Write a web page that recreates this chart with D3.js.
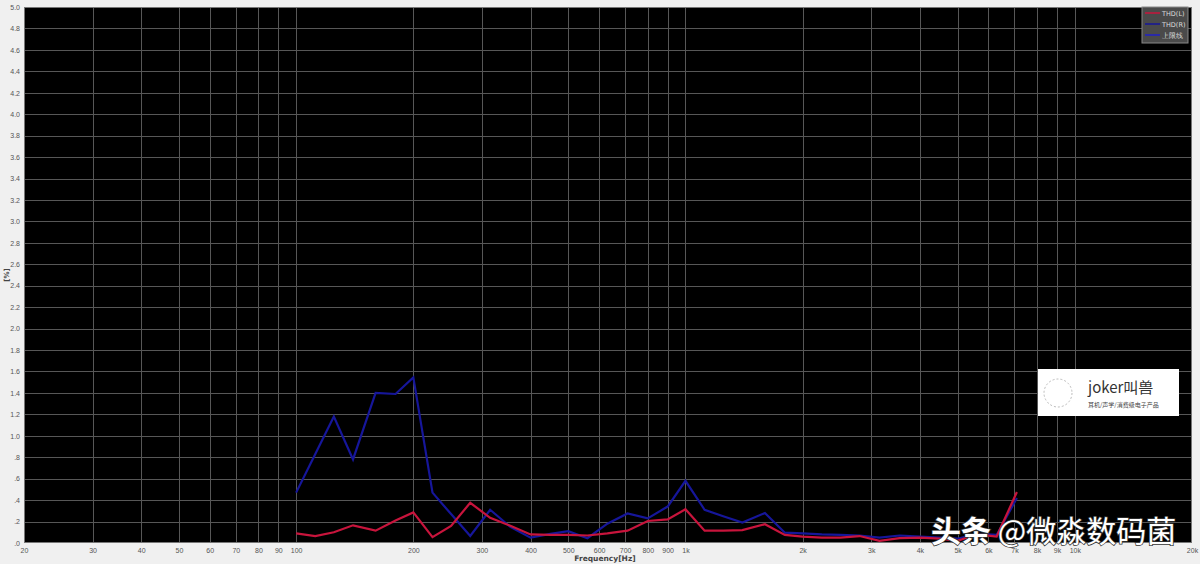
<!DOCTYPE html>
<html><head><meta charset="utf-8">
<script src="https://cdn.jsdelivr.net/npm/d3@7"></script>
<style>
html,body{margin:0;padding:0;background:#f0f0f0;}
svg{display:block;font-family:"DejaVu Sans",sans-serif;}
</style></head>
<body>
<script>
const freqs = [100,112,125,140,160,180,200,224,250,280,315,355,400,450,500,560,630,710,800,900,1000,1120,1250,1400,1600,1800,2000,2240,2500,2800,3150,3550,4000,4500,5000,5600,6300,7100];
const thdL = [0.09,0.065,0.10,0.165,0.115,0.21,0.285,0.055,0.16,0.375,0.235,0.16,0.08,0.075,0.075,0.07,0.09,0.115,0.205,0.22,0.315,0.115,0.115,0.12,0.175,0.075,0.06,0.05,0.05,0.065,0.02,0.045,0.05,0.04,0.02,0.08,0.06,0.475];
const thdR = [0.47,0.83,1.18,0.78,1.40,1.39,1.545,0.47,0.27,0.065,0.31,0.15,0.05,0.085,0.11,0.045,0.18,0.275,0.23,0.34,0.58,0.31,0.25,0.19,0.28,0.096,0.09,0.08,0.075,0.07,0.05,0.07,0.06,0.05,0.04,0.085,0.075,0.42];
const xTicks = [20,30,40,50,60,70,80,90,100,200,300,400,500,600,700,800,900,1000,2000,3000,4000,5000,6000,7000,8000,9000,10000,20000];
const xTickLabels = ["20","30","40","50","60","70","80","90","100","200","300","400","500","600","700","800","900","1k","2k","3k","4k","5k","6k","7k","8k","9k","10k","20k"];
const yTicks = d3.range(0,26).map(i=>i*0.2);
const yTickLabels = yTicks.map(v=>{const s=v.toFixed(1);return v<1?s.slice(1):s;});
const legendLabels = ["THD(L)","THD(R)","上限线"];
const legendColors = ["#c8143c","#16169a","#2020c8"];

const W=1200,H=564;
const svg=d3.select("body").append("svg").attr("width",W).attr("height",H);
const L=24,R=1192,T=7,B=543;
const x=d3.scaleLog().domain([20,20000]).range([L,R]);
const y=d3.scaleLinear().domain([0,5]).range([B,T]);

svg.append("rect").attr("width",W).attr("height",H).attr("fill","#f0f0f0");
svg.append("rect").attr("x",L).attr("y",T).attr("width",R-L).attr("height",B-T).attr("fill","#000");

// grid
const g=svg.append("g");
g.selectAll("line.h").data(yTicks.slice(1,-1)).join("line")
 .attr("x1",L).attr("x2",R).attr("y1",d=>Math.round(y(d))+0.5).attr("y2",d=>Math.round(y(d))+0.5)
 .attr("stroke","#575757").attr("stroke-width",1);
g.selectAll("line.v").data(xTicks.slice(1,-1)).join("line")
 .attr("y1",T).attr("y2",B).attr("x1",d=>Math.round(x(d))+0.5).attr("x2",d=>Math.round(x(d))+0.5)
 .attr("stroke","#575757").attr("stroke-width",1);
svg.append("rect").attr("x",L+0.5).attr("y",T+0.5).attr("width",R-L-1).attr("height",B-T-1)
 .attr("fill","none").attr("stroke","#777");

// axes
const yAxis=d3.axisLeft(y).tickValues(yTicks).tickFormat((d,i)=>yTickLabels[i]).tickSize(0).tickPadding(4);
const ya=svg.append("g").attr("transform",`translate(${L},0)`).call(yAxis);
ya.select(".domain").remove();
ya.selectAll("text").attr("fill","#555").style("font-size","7px");

const xAxis=d3.axisBottom(x).tickValues(xTicks).tickFormat((d,i)=>xTickLabels[i]).tickSize(0).tickPadding(5);
const xa=svg.append("g").attr("transform",`translate(0,${B})`).call(xAxis);
xa.select(".domain").remove();
xa.selectAll("text").attr("fill","#555").style("font-size","7px");

svg.append("text").attr("x",605).attr("y",561).attr("text-anchor","middle")
 .attr("fill","#444").style("font-size","7.5px").style("font-weight","bold").text("Frequency[Hz]");
svg.append("text").attr("transform","translate(9,275) rotate(-90)").attr("text-anchor","middle")
 .attr("fill","#444").style("font-size","7px").style("font-weight","bold").text("[%]");

// lines
const line=(vals)=>d3.line().x((d,i)=>x(freqs[i])).y(d=>y(d))(vals);
svg.append("path").attr("d",line(thdR)).attr("fill","none").attr("stroke",legendColors[1]).attr("stroke-width",2.2);
svg.append("path").attr("d",line(thdL)).attr("fill","none").attr("stroke",legendColors[0]).attr("stroke-width",2.2);

// legend
const lg=svg.append("g").attr("transform","translate(1142,7)");
lg.append("rect").attr("width",46).attr("height",36).attr("fill","#4a4a4a").attr("stroke","#888");
legendLabels.forEach((t,i)=>{
  lg.append("line").attr("x1",3).attr("x2",18).attr("y1",6+i*11).attr("y2",6+i*11).attr("stroke",legendColors[i]).attr("stroke-width",1.5);
  lg.append("text").attr("x",20).attr("y",8.5+i*11).attr("fill","#ddd").style("font-size","6.5px").text(t);
});

// logo box
const wb=svg.append("g").attr("transform","translate(1038,369)");
wb.append("rect").attr("width",141).attr("height",47).attr("fill","#fff");
wb.append("circle").attr("cx",20).attr("cy",24).attr("r",14).attr("fill","none").attr("stroke","#bbb").attr("stroke-dasharray","2,2");
wb.append("text").attr("x",50).attr("y",24).attr("fill","#333").style("font-size","15px").style("font-family","'Noto Sans CJK SC',sans-serif").text("joker叫兽");
wb.append("text").attr("x",50).attr("y",38).attr("fill","#444").style("font-size","6px").style("font-family","'Noto Sans CJK SC',sans-serif").text("耳机/声学/消费级电子产品");

// watermark
const wm=svg.append("text").attr("x",931).attr("y",542).attr("fill","#fff")
 .style("font-size","30px").style("font-family","'Noto Sans CJK SC',sans-serif")
 .style("paint-order","stroke").attr("stroke","#333").attr("stroke-width",1.5);
wm.append("tspan").style("font-weight","bold").text("头条 ");
wm.append("tspan").text("@微淼数码菌");
</script>
</body></html>
